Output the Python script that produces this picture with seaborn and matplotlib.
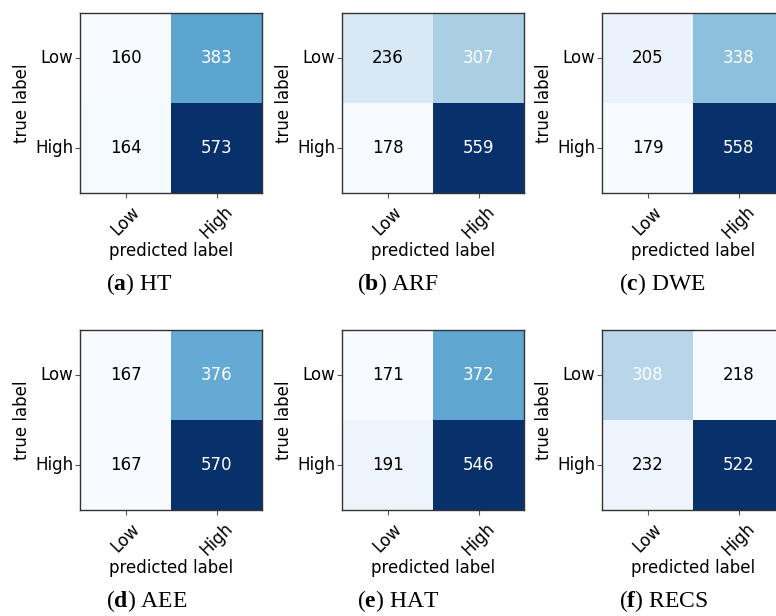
import numpy as np
import pandas as pd
import matplotlib
matplotlib.use("Agg")
import matplotlib.pyplot as plt
import seaborn as sns

plt.rcParams["mathtext.fontset"] = "custom"
plt.rcParams["mathtext.rm"] = "Liberation Serif"
plt.rcParams["mathtext.bf"] = "Liberation Serif:bold"

class_names = ["Low", "High"]
model_names = ["HT", "ARF", "DWE", "AEE", "HAT", "RECS"]
panel_letters = ["a", "b", "c", "d", "e", "f"]

cm_ht = [[160, 383], [164, 573]]
cm_arf = [[236, 307], [178, 559]]
cm_dwe = [[205, 338], [179, 558]]
cm_aee = [[167, 376], [167, 570]]
cm_hat = [[171, 372], [191, 546]]
cm_recs = [[308, 218], [232, 522]]
matrices = [cm_ht, cm_arf, cm_dwe, cm_aee, cm_hat, cm_recs]

W, H = 776, 616
fig = plt.figure(figsize=(W / 100, H / 100), dpi=100)

col_left = [80, 342, 602]
row_top = [13, 330]
box_w, box_h = 182, 180
caption_x = [106, 357, 619]
caption_y = [284, 601]

for k, (name, letter, cm) in enumerate(zip(model_names, panel_letters, matrices)):
    r, c = divmod(k, 3)
    left = col_left[c] / W
    bottom = 1 - (row_top[r] + box_h) / H
    ax = fig.add_axes([left, bottom, box_w / W, box_h / H])
    df = pd.DataFrame(cm, index=class_names, columns=class_names)
    arr = np.array(cm)
    sns.heatmap(df, ax=ax, cmap="Blues", cbar=False, annot=True, fmt="d",
                annot_kws={"fontsize": 12}, linewidths=0)
    thresh = arr.max() / 2
    for t in ax.texts:
        v = int(t.get_text())
        t.set_color("white" if v > thresh else "black")
    for s in ax.spines.values():
        s.set_visible(True)
        s.set_color("#333333")
        s.set_linewidth(1.0)
    ax.tick_params(axis="both", length=3.5, width=0.8, color="#555555",
                   labelsize=12, left=True, bottom=True)
    ax.tick_params(axis="y", pad=1.5)
    ax.set_xticklabels(class_names, rotation=45, ha="center")
    ax.set_yticklabels(class_names, rotation=0, va="center")
    ax.set_xlabel("predicted label", fontsize=12, labelpad=0)
    ax.set_ylabel("true label", fontsize=12, labelpad=3)
    fig.text(caption_x[c] / W, 1 - caption_y[r] / H,
             r"($\mathbf{" + letter + r"}$) " + name,
             family="Liberation Serif", fontsize=17, va="center", ha="left")

fig.savefig("out.png", dpi=100)
